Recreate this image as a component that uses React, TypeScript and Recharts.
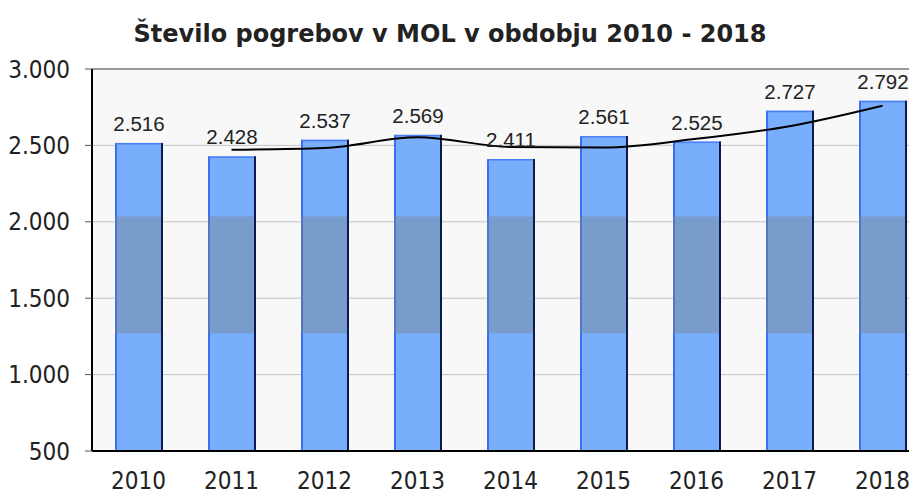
import React from 'react';
import { ComposedChart, Bar, Line, XAxis, YAxis, CartesianGrid, LabelList, ReferenceLine } from 'recharts';

const TITLE = 'Število pogrebov v MOL v obdobju 2010 - 2018';
const YEARS = ['2010', '2011', '2012', '2013', '2014', '2015', '2016', '2017', '2018'];
const BURIALS = [2516, 2428, 2537, 2569, 2411, 2561, 2525, 2727, 2792];
const MOVING_AVG: (number | null)[] = [null, 2472, 2483, 2553, 2490, 2486, 2543, 2626, 2760];
const Y_TICKS = [500, 1000, 1500, 2000, 2500, 3000];
const Y_DOMAIN: [number, number] = [500, 3000];
const BAND: [number, number] = [1270, 2035];
const BOUNDARY_TICKS = [0, 1, 2, 3, 4, 5, 6, 7, 8, 9];

const AXIS_FONT = "'DejaVu Sans Condensed', 'DejaVu Sans', Verdana, sans-serif";

const data = YEARS.map((year, i) => ({ year, burials: BURIALS[i], avg: MOVING_AVG[i] }));

const fmt = (v: number) => v.toLocaleString('de-DE');

const BarShape = (props: any) => {
  const { x, y, width, height, payload } = props;
  const v = payload.burials;
  const bottom = y + height;
  const ppu = height / (v - Y_DOMAIN[0]);
  const bTop = Math.max(y, bottom - (BAND[1] - Y_DOMAIN[0]) * ppu);
  const bBot = bottom - (BAND[0] - Y_DOMAIN[0]) * ppu;
  return (
    <g>
      <rect x={x} y={y} width={width} height={height} fill="#78aefc" />
      <rect x={x} y={y} width={2} height={height} fill="#3d6ef2" />
      <rect x={x} y={y} width={width} height={1.5} fill="#4a7ef5" />
      {bBot > bTop && <rect x={x} y={bTop} width={width} height={bBot - bTop} fill="#788184" fillOpacity={0.4} />}
      <rect x={x + width - 2} y={y} width={2} height={height} fill="#0d1a4d" />
    </g>
  );
};

const XTick = (props: any) => {
  const { x, y, payload } = props;
  return (
    <text x={x} y={y} dy="0.7em" textAnchor="middle" fill="#222" fontSize={24} fontFamily={AXIS_FONT}>
      {payload.value}
    </text>
  );
};

export default function App() {
  return (
    <div style={{ position: 'relative', width: 909, height: 484, overflow: 'hidden', background: '#fff' }}>
      <div
        style={{
          position: 'absolute',
          left: 0,
          width: 884,
          top: 12,
          textAlign: 'center',
          fontFamily: "'DejaVu Sans', Verdana, sans-serif",
          fontWeight: 'bold',
          fontSize: 24,
          lineHeight: 'normal',
          color: '#222',
          whiteSpace: 'nowrap',
        }}
      >
        {TITLE}
      </div>
      <ComposedChart width={940} height={484} data={data} margin={{ top: 61, right: 19, bottom: 11, left: 0 }}>
        <CartesianGrid vertical={false} stroke="#c4c4c4" fill="#f8f8f8" />
        <XAxis
          xAxisId="grid"
          type="number"
          domain={[0, 9]}
          ticks={BOUNDARY_TICKS}
          tick={false}
          axisLine={false}
          tickLine={{ stroke: '#555', strokeWidth: 1 }}
          tickSize={7}
          height={0}
        />
        <XAxis
          xAxisId="cat"
          dataKey="year"
          tick={<XTick />}
          tickLine={false}
          tickSize={0}
          tickMargin={21}
          axisLine={{ stroke: '#000', strokeWidth: 2 }}
          height={30}
        />
        <YAxis
          domain={Y_DOMAIN}
          ticks={Y_TICKS}
          tickFormatter={fmt}
          width={84}
          axisLine={{ stroke: '#000', strokeWidth: 2 }}
          tickLine={{ stroke: '#555' }}
          tickSize={7}
          tickMargin={15}
          tick={{ fill: '#222', fontSize: 24, fontFamily: AXIS_FONT }}
          allowDataOverflow
        />
        <ReferenceLine xAxisId="cat" y={3000} stroke="#9a9a9a" strokeWidth={2} />
        <Bar xAxisId="cat" dataKey="burials" barSize={48} shape={<BarShape />} isAnimationActive={false}>
          <LabelList
            dataKey="burials"
            position="top"
            offset={12}
            formatter={(v: any) => fmt(Number(v))}
            fill="#222"
            fontSize={20.5}
            fontFamily="'Liberation Sans', Arial, sans-serif"
          />
        </Bar>
        <Line
          xAxisId="cat"
          dataKey="avg"
          type="monotone"
          stroke="#000"
          strokeWidth={2}
          dot={false}
          connectNulls={false}
          isAnimationActive={false}
        />
      </ComposedChart>
    </div>
  );
}
